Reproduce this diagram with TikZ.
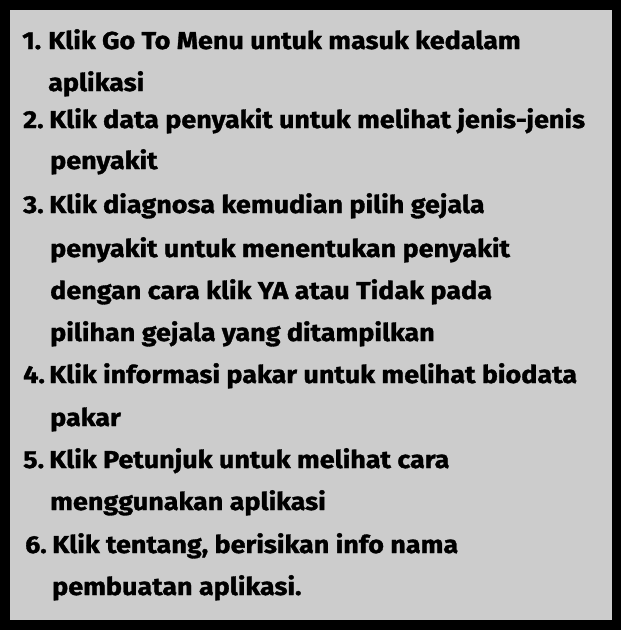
\documentclass[tikz,border=0pt]{standalone}
\usepackage{fontspec}
\setmainfont{Fira Sans}[BoldFeatures={FakeBold=1.3,FakeStretch=1.1}]
\definecolor{kotak}{HTML}{CCCCCC}

\begin{document}
\begin{tikzpicture}[x=1pt, y=-1pt,
    baris/.style={anchor=base west, inner sep=0pt, font=\fontsize{24.5}{24.5}\selectfont\bfseries}]
    \fill[black] (0,0) rectangle (621,630);
    \fill[kotak] (10,10) rectangle (612,620);
    % nomor
    \foreach \n/\x/\y in {1/22/49, 2/23/128, 3/23/213, 4/23/383, 5/23/468, 6/25/553} {
        \node[baris] (no\n) at (\x,\y) {\n.};
    }
    % isi
    \node[baris] (t1a) at (48,49) {Klik Go To Menu untuk masuk kedalam};
    \node[baris] (t1b) at (48,91) {aplikasi};
    \node[baris] (t2a) at (49,128) {Klik data penyakit untuk melihat jenis-jenis};
    \node[baris] (t2b) at (50,169) {penyakit};
    \node[baris] (t3a) at (49,213) {Klik diagnosa kemudian pilih gejala};
    \node[baris] (t3b) at (50,257) {penyakit untuk menentukan penyakit};
    \node[baris] (t3c) at (50,299) {dengan cara klik YA atau Tidak pada};
    \node[baris] (t3d) at (50,341) {pilihan gejala yang ditampilkan};
    \node[baris] (t4a) at (49,383) {Klik informasi pakar untuk melihat biodata};
    \node[baris] (t4b) at (50,426) {pakar};
    \node[baris] (t5a) at (49,468) {Klik Petunjuk untuk melihat cara};
    \node[baris] (t5b) at (50,510) {menggunakan aplikasi};
    \node[baris] (t6a) at (52,553) {Klik tentang, berisikan info nama};
    \node[baris] (t6b) at (52,595) {pembuatan aplikasi.};
\end{tikzpicture}
\end{document}
